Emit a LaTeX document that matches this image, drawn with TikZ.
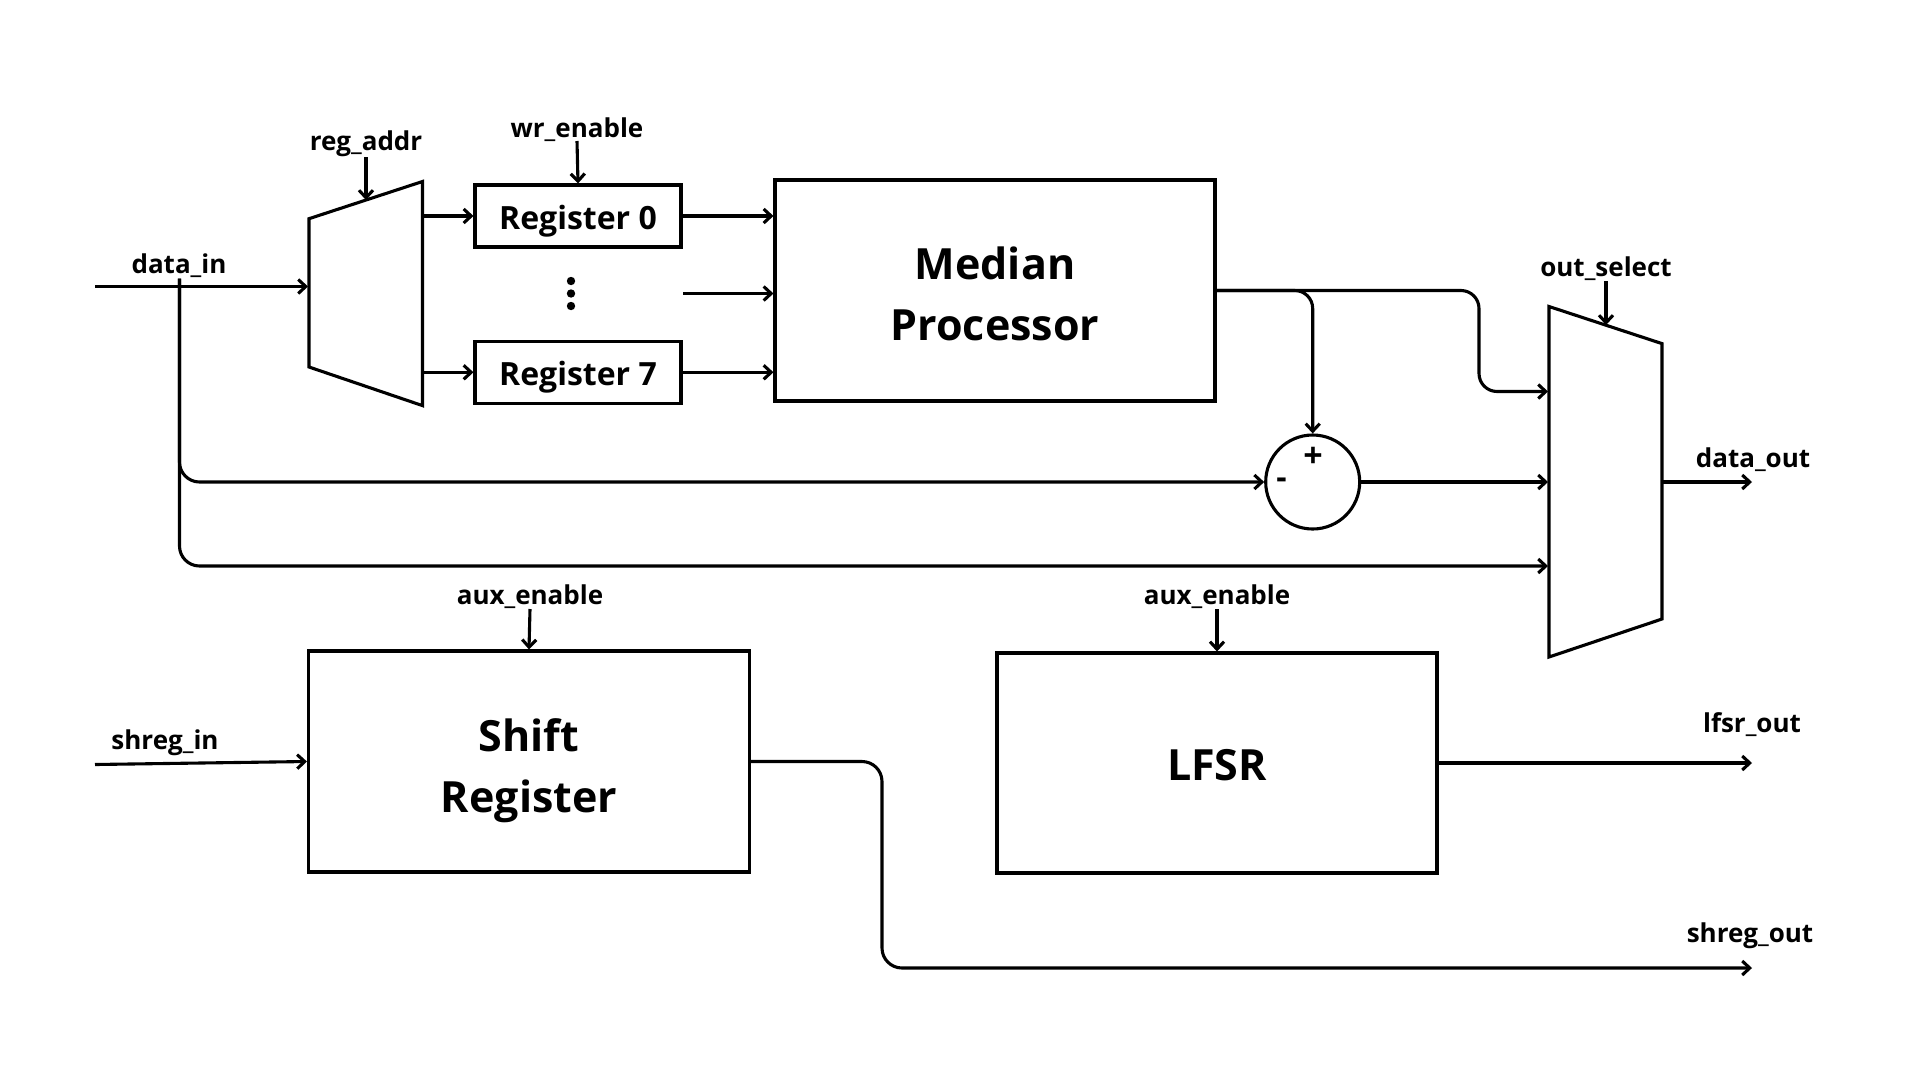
\documentclass[tikz,border=0pt]{standalone}
\usepackage{fontspec}
\setmainfont{Open Sans}
\usetikzlibrary{arrows.meta,calc}
\begin{document}
\begin{tikzpicture}[x=1pt,y=-1pt,
  wire/.style={line width=3.1pt},
  arr/.style={wire,-{Straight Barb[length=7.5pt,width=14pt]}},
  bigbox/.style={draw,line width=3.1pt,inner sep=0pt},
  regbox/.style={draw,line width=3.1pt,inner sep=0pt,minimum width=206pt,minimum height=62pt},
  bigtext/.style={inner sep=0pt,align=center,font=\bfseries\fontsize{43}{61}\selectfont},
  regtext/.style={inner sep=0pt,font=\bfseries\fontsize{32}{38}\selectfont},
  lbl/.style={font=\bfseries\fontsize{26}{30}\selectfont,inner sep=0pt},
  muxshape/.style={draw,line width=3.1pt,line join=miter}]
\useasboundingbox[fill=white] (0,0) rectangle (1920,1080);

% ---- input mux
\draw[muxshape] (309,218.7) -- (422.5,181.5) -- (422.5,405.6) -- (309,367) -- cycle;
\coordinate (m1in) at (308,286.5);
\coordinate (m1o0) at (422.5,216);
\coordinate (m1o7) at (422.5,372.3);
\coordinate (m1sel) at (366,200);

% ---- output mux
\draw[muxshape] (1549,306.5) -- (1662,343.6) -- (1662,619) -- (1549,657) -- cycle;
\coordinate (m2a) at (1548,391.5);
\coordinate (m2b) at (1548,482);
\coordinate (m2c) at (1548,566);
\coordinate (m2out) at (1662,482);
\coordinate (m2sel) at (1606,325);

% ---- boxes
\node[regbox] (reg0) at (578,216) {};
\node[regtext] (reg0t) at (578,221) {Register 0};
\node[regbox] (reg7) at (578,372.3) {};
\node[regtext] (reg7t) at (578,377) {Register 7};
\node[bigbox,minimum width=440pt,minimum height=221pt] (med) at (995,290.5) {};
\node[bigtext] (medt) at (995,294) {Median\\Processor};
\node[bigbox,minimum width=441pt,minimum height=221pt] (shr) at (529,761.5) {};
\node[bigtext] (shrt) at (529,771) {Shift\\Register};
\node[bigbox,minimum width=440pt,minimum height=220pt] (lfsr) at (1217,763) {};
\node[bigtext] (lfsrt) at (1217,765.5) {LFSR};
\node[draw,circle,line width=3.1pt,minimum size=94pt,inner sep=0pt] (sub) at (1312.7,482) {};
\node[lbl,font=\bfseries\fontsize{34}{36}\selectfont] (plus) at (1313,457) {+};
\node[lbl,font=\bfseries\fontsize{32}{36}\selectfont] (minus) at (1281.5,483) {-};

% ---- dots
\fill (571,281) circle (4.2pt);
\fill (571,293.5) circle (4.2pt);
\fill (571,306) circle (4.2pt);

% ---- labels
\node[lbl] (lreg) at (366,144) {reg\_addr};
\node[lbl] (lwr) at (577,130) {wr\_enable};
\node[lbl] (ldin) at (179,266) {data\_in};
\node[lbl] (lsel) at (1606,269) {out\_select};
\node[lbl] (ldout) at (1753,460) {data\_out};
\node[lbl] (laux1) at (530,597) {aux\_enable};
\node[lbl] (laux2) at (1217,597) {aux\_enable};
\node[lbl] (lshin) at (165,743) {shreg\_in};
\node[lbl] (llfsr) at (1752,724.5) {lfsr\_out};
\node[lbl] (lshout) at (1750,936) {shreg\_out};

% ---- free ends
\coordinate (din) at (95,286.5);
\coordinate (dv) at (179.5,278.6);
\coordinate (sreg) at (366,157);
\coordinate (swr) at (577,141);
\coordinate (ssel) at (1606,281);
\coordinate (dout) at (1752,482);
\coordinate (mid) at (683,293.5);
\coordinate (j2) at (1479,391.5);
\coordinate (shin) at (95,764.5);
\coordinate (sax1) at (530,609);
\coordinate (sax2) at (1217,609);
\coordinate (lfo) at (1752,763);
\coordinate (j3) at (882,968);
\coordinate (sho) at (1752,968);

% ---- connectors
\draw[arr] (din) -- (m1in);
\draw[arr] (sreg) -- (m1sel);
\draw[arr] (swr) -- (reg0.north);
\draw[arr] (m1o0) -- (reg0.west);
\draw[arr] (m1o7) -- (reg7.west);
\draw[arr] (reg0.east) -- (reg0.east -| med.west);
\draw[arr] (reg7.east) -- (reg7.east -| med.west);
\draw[arr] (mid) -- (mid -| med.west);
\draw[arr,rounded corners=18pt] (med.east) -| (sub.north);
\draw[arr,rounded corners=18pt] (med.east) -| (j2) -- (m2a);
\draw[arr,rounded corners=20pt] (dv) |- (sub.west);
\draw[arr,rounded corners=20pt] (dv) |- (m2c);
\draw[arr] (sub.east) -- (m2b);
\draw[arr] (ssel) -- (m2sel);
\draw[arr] (m2out) -- (dout);
\draw[arr] (shin) -- (shr.west);
\draw[arr] (sax1) -- (shr.north);
\draw[arr] (sax2) -- (lfsr.north);
\draw[arr] (lfsr.east) -- (lfo);
\draw[arr,rounded corners=20pt] (shr.east) -| (j3) -- (sho);
\end{tikzpicture}
\end{document}
